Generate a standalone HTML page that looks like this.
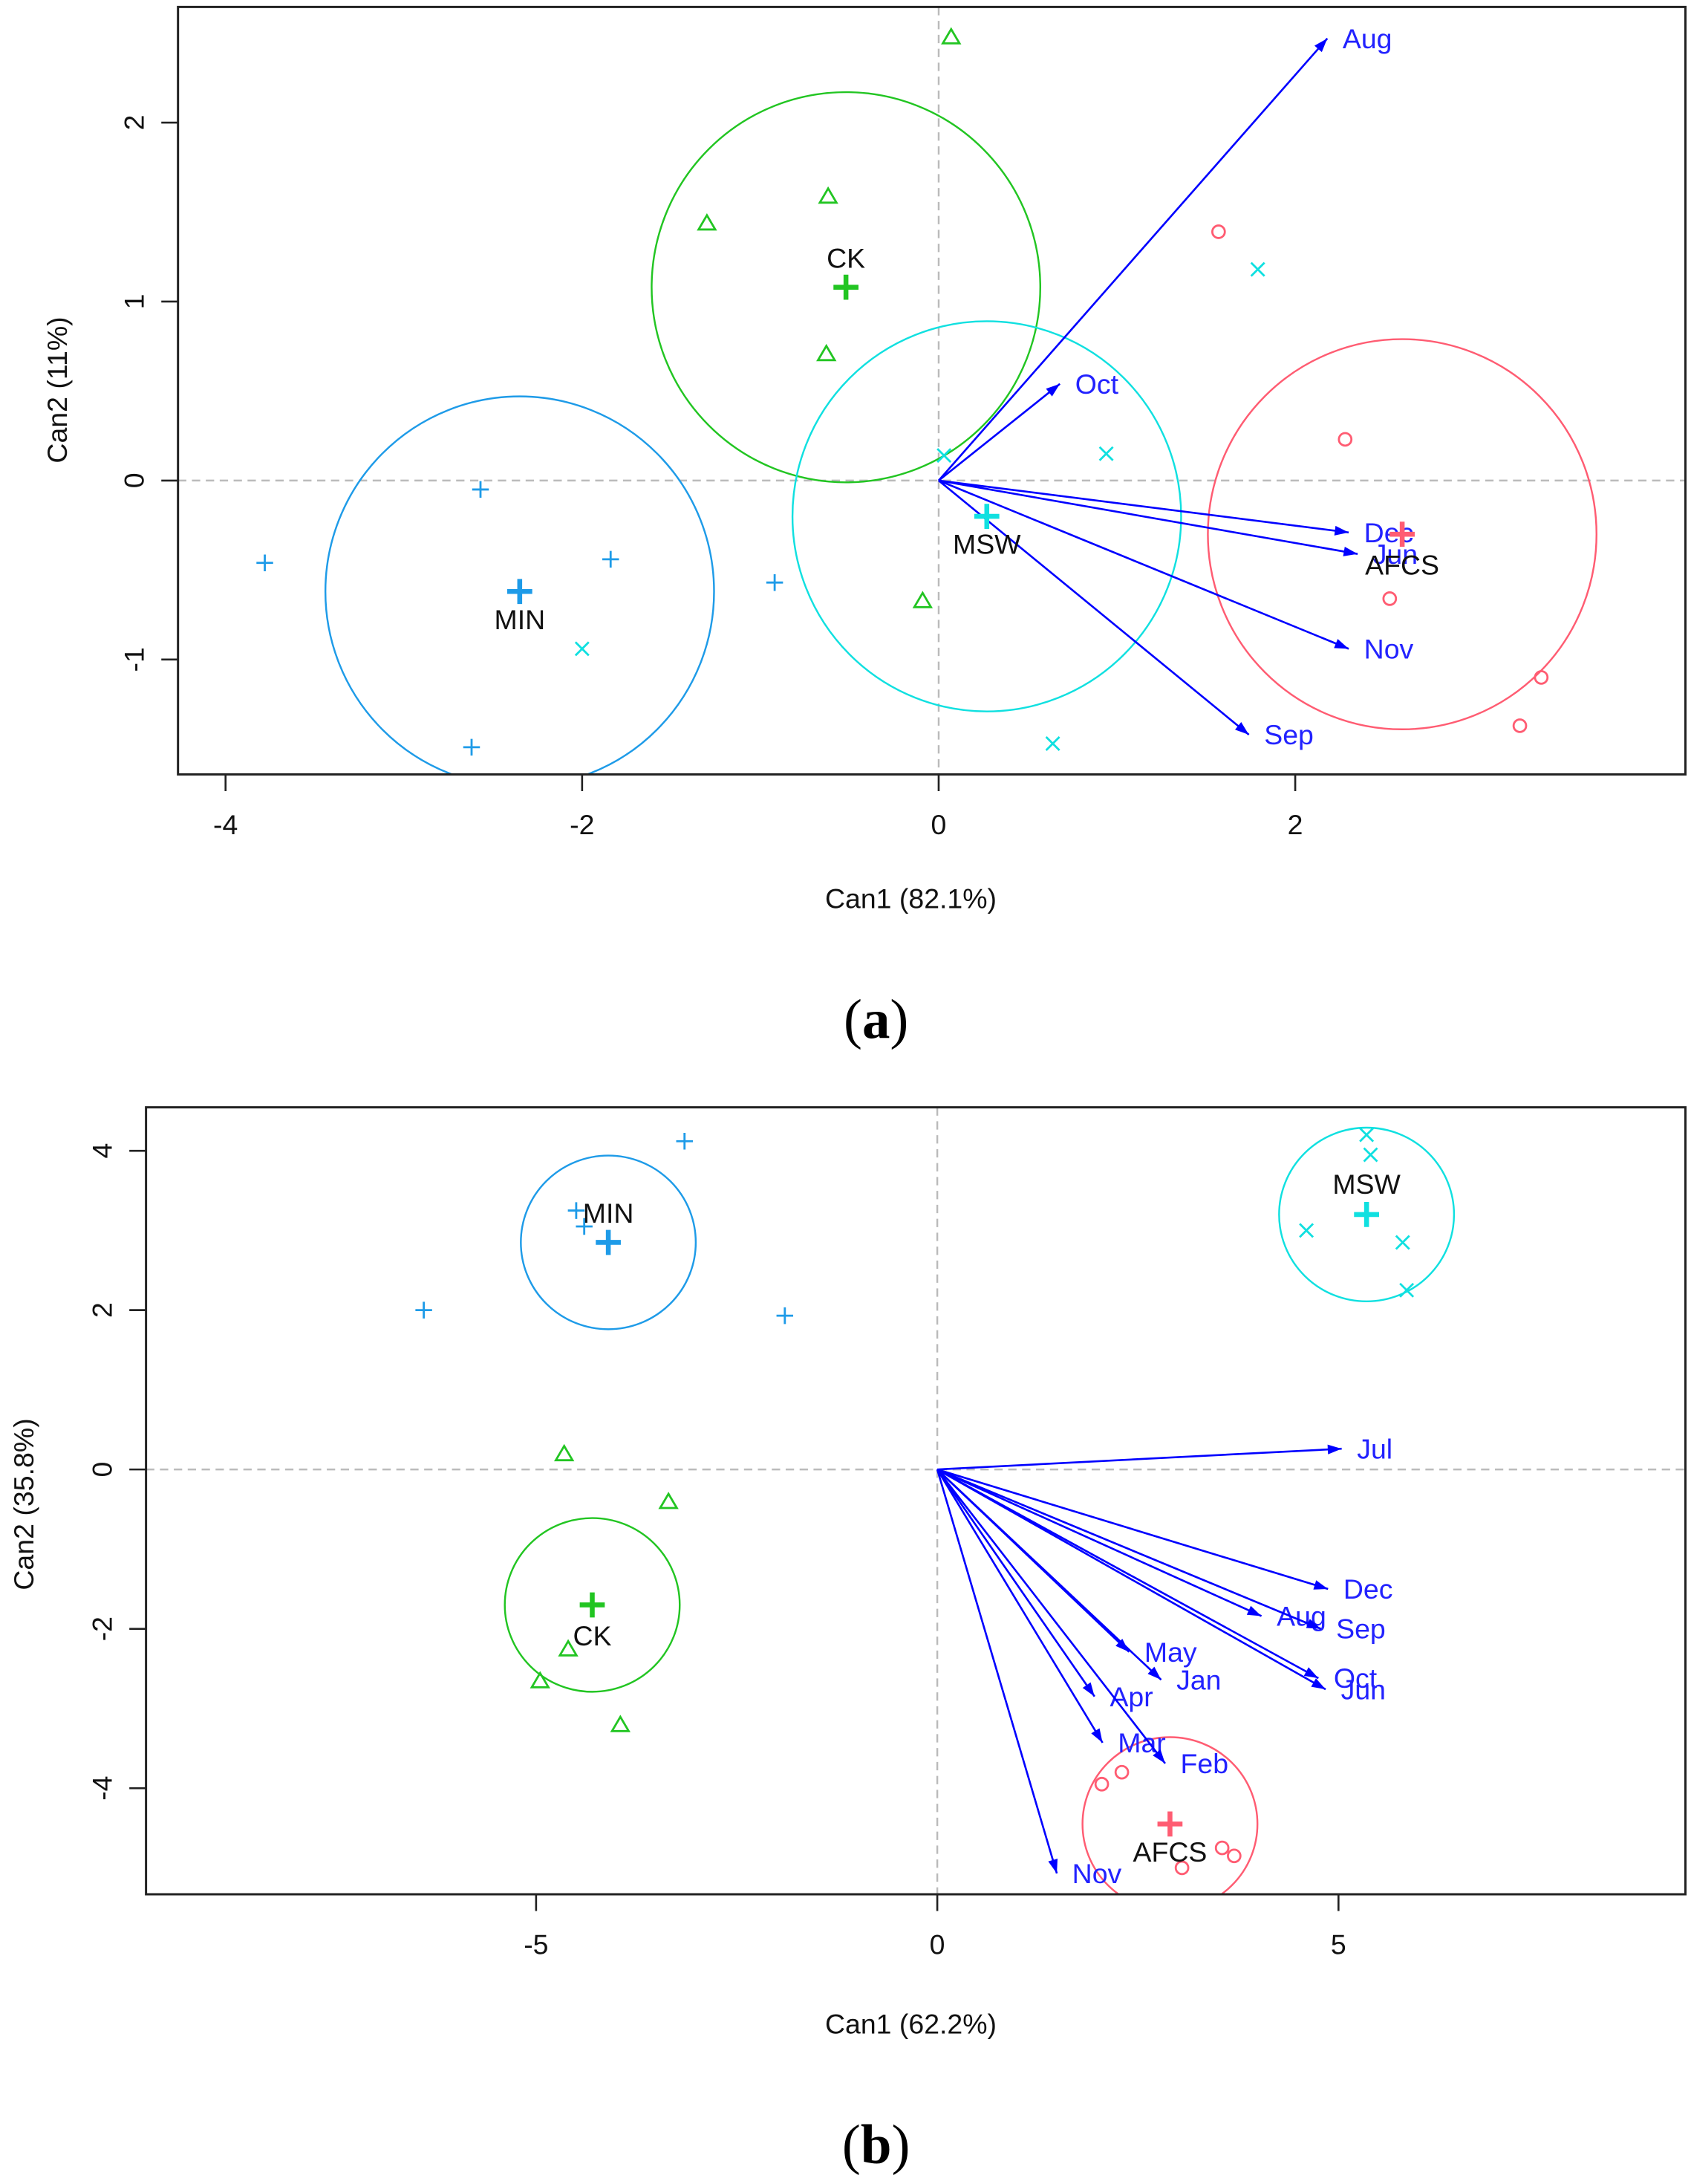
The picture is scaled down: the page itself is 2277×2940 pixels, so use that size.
<!DOCTYPE html>
<html><head><meta charset="utf-8"><style>
html,body{margin:0;padding:0;background:#fff}
svg{display:block}
text{font-family:"Liberation Sans",sans-serif}
</style></head><body>
<svg id="fig" width="2277" height="2940" viewBox="0 0 1216 1568" preserveAspectRatio="none" xmlns="http://www.w3.org/2000/svg">
<defs>
<marker id="ah" viewBox="0 0 10 10" refX="10" refY="5" markerWidth="12" markerHeight="10" markerUnits="userSpaceOnUse" orient="auto"><path d="M0,1.5 L10,5 L0,8.5 z" fill="#0000ff"/></marker>
</defs>
<g id="pa"></g>
<g id="pb"></g>
<text x="630" y="745" font-size="40" text-anchor="middle" style="font-family:'Liberation Serif',serif">(<tspan font-weight="bold">a</tspan>)</text>
<text x="630" y="1553" font-size="40" text-anchor="middle" style="font-family:'Liberation Serif',serif">(<tspan font-weight="bold">b</tspan>)</text>
</svg>
<script>
// ---------- Panel A data ----------
const aGroups = ["CK","MIN","MSW","AFCS"];
const aCentX = [-0.52, -2.35, 0.27, 2.6];
const aCentY = [1.08, -0.62, -0.2, -0.3];
const aRadius = [1.09, 1.09, 1.09, 1.09];
const aPtGroup = [0,0,0,0,0, 1,1,1,1,1, 2,2,2,2,2, 3,3,3,3,3];
const aPtX = [0.07,-0.62,-1.3,-0.63,-0.09, -2.57,-3.78,-1.84,-0.92,-2.62, 1.79,0.03,0.94,-2.0,0.64, 1.57,2.28,2.53,3.38,3.26];
const aPtY = [2.48,1.59,1.44,0.71,-0.67, -0.05,-0.46,-0.44,-0.57,-1.49, 1.18,0.14,0.15,-0.94,-1.47, 1.39,0.23,-0.66,-1.1,-1.37];
const aVarNames = ["Aug","Oct","Dec","Jun","Nov","Sep"];
const aVarX = [2.18, 0.68, 2.3, 2.35, 2.3, 1.74];
const aVarY = [2.47, 0.54, -0.29, -0.41, -0.94, -1.42];
const aXTicks = [-4,-2,0,2];
const aYTicks = [-1,0,1,2];

// ---------- Panel B data ----------
const bGroups = ["CK","MIN","MSW","AFCS"];
const bCentX = [-4.3, -4.1, 5.35, 2.9];
const bCentY = [-1.7, 2.85, 3.2, -4.45];
const bRadius = [1.09, 1.09, 1.09, 1.09];
const bPtGroup = [0,0,0,0,0, 1,1,1,1,1, 2,2,2,2,2, 3,3,3,3,3];
const bPtX = [-4.65,-3.35,-4.6,-4.95,-3.95, -4.5,-4.4,-3.15,-6.4,-1.9, 5.35,5.4,4.6,5.8,5.85, 2.05,2.3,3.55,3.7,3.05];
const bPtY = [0.2,-0.4,-2.25,-2.65,-3.2, 3.25,3.05,4.12,2.0,1.93, 4.2,3.95,3.0,2.85,2.25, -3.95,-3.8,-4.75,-4.85,-5.0];
const bVarNames = ["Jul","Dec","Aug","Sep","Oct","Jun","May","Jan","Apr","Mar","Feb","Nov"];
const bVarX = [5.04, 4.87, 4.04, 4.78, 4.75, 4.84, 2.39, 2.79, 1.96, 2.06, 2.84, 1.49];
const bVarY = [0.26, -1.5, -1.84, -2.0, -2.62, -2.76, -2.29, -2.64, -2.85, -3.43, -3.69, -5.07];
const bXTicks = [-5,0,5];
const bYTicks = [-4,-2,0,2,4];

const colors = {CK:"#22c522", MIN:"#1e9be8", MSW:"#10e0e0", AFCS:"#ff5c72"};
const NS = "http://www.w3.org/2000/svg";
function mk(parent, tag, attrs){const e=document.createElementNS(NS,tag);for(const k in attrs)e.setAttribute(k,attrs[k]);parent.appendChild(e);return e;}

function drawSymbol(g, name, x, y, col, big){
  const s = big?9:6, sw = big?3.5:1.5;
  if(big || name==="MIN"){ mk(g,"path",{d:`M${x-s},${y} H${x+s} M${x},${y-s} V${y+s}`,stroke:col,"stroke-width":sw}); }
  else if(name==="CK"){ mk(g,"path",{d:`M${x-s},${y+s*0.8} L${x},${y-s*0.9} L${x+s},${y+s*0.8} Z`,fill:"none",stroke:col,"stroke-width":sw}); }
  else if(name==="MSW"){ const t=s*0.8; mk(g,"path",{d:`M${x-t},${y-t} L${x+t},${y+t} M${x-t},${y+t} L${x+t},${y-t}`,stroke:col,"stroke-width":sw}); }
  else { mk(g,"circle",{cx:x,cy:y,r:4.5,fill:"none",stroke:col,"stroke-width":sw}); }
}

function panel(cfg){
  const g = document.getElementById(cfg.id);
  const {L,R,T,B,x0,y0,sx,sy} = cfg;
  const X = v => x0 + v*sx, Y = v => y0 - v*sy;
  const clipId = cfg.id+"clip";
  const cp = mk(g,"clipPath",{id:clipId}); mk(cp,"rect",{x:L,y:T,width:R-L,height:B-T});
  const inner = mk(g,"g",{"clip-path":`url(#${clipId})`});
  let e = mk(inner,"line",{x1:L,x2:R,y1:Y(0),y2:Y(0),stroke:"#bbb","stroke-dasharray":"6,4","stroke-width":1.3});
   
  e = mk(inner,"line",{x1:X(0),x2:X(0),y1:T,y2:B,stroke:"#bbb","stroke-dasharray":"6,4","stroke-width":1.3});
   
  cfg.groups.forEach((nm,i)=>{
    const c = mk(inner,"ellipse",{cx:X(cfg.cx[i]),cy:Y(cfg.cy[i]),rx:cfg.r[i]*sx,ry:cfg.r[i]*sy,fill:"none",stroke:colors[nm],"stroke-width":1.3});
    
    
  });
  cfg.px.forEach((v,i)=>{
    const nm = cfg.groups[cfg.pg[i]];
    const pg = mk(inner,"g",{});
    
    
    drawSymbol(pg,nm,X(v),Y(cfg.py[i]),colors[nm],false);
  });
  cfg.vn.forEach((nm,i)=>{
    const a = mk(inner,"line",{x1:X(0),y1:Y(0),x2:X(cfg.vx[i]),y2:Y(cfg.vy[i]),stroke:"#0000ff","stroke-width":1.4,"marker-end":"url(#ah)"});
    
    
    const t = mk(inner,"text",{x:X(cfg.vx[i])+11,y:Y(cfg.vy[i])+7,"font-size":20,fill:"#2222ff"});
    t.textContent = nm;
    
    
  });
  cfg.groups.forEach((nm,i)=>{
    const cg = mk(inner,"g",{});
    
    
    drawSymbol(cg,nm,X(cfg.cx[i]),Y(cfg.cy[i]),colors[nm],true);
    const t = mk(inner,"text",{x:X(cfg.cx[i])+cfg.lx[i],y:Y(cfg.cy[i])+cfg.ly[i],"font-size":20,fill:"#111","text-anchor":"middle"});
    t.textContent = nm;
    
    
  });
  e = mk(g,"rect",{x:L,y:T,width:R-L,height:B-T,fill:"none",stroke:"#222","stroke-width":1.6});
   
  cfg.xt.forEach(v=>{
    const tk = mk(g,"line",{x1:X(v),x2:X(v),y1:B,y2:B+12,stroke:"#222","stroke-width":1.4});
     
    const t = mk(g,"text",{x:X(v),y:B+43,"font-size":20,"text-anchor":"middle",fill:"#111"});
    t.textContent = v;  
  });
  cfg.yt.forEach(v=>{
    const tk = mk(g,"line",{x1:L-12,x2:L,y1:Y(v),y2:Y(v),stroke:"#222","stroke-width":1.4});
     
    const t = mk(g,"text",{x:L-30,y:Y(v),"font-size":20,"text-anchor":"middle",fill:"#111",transform:`rotate(-90 ${L-30} ${Y(v)})`,"dominant-baseline":"middle"});
    t.textContent = v;  
  });
  let t = mk(g,"text",{x:cfg.xtx,y:cfg.xty,"font-size":20,"text-anchor":"middle",fill:"#111"});
  t.textContent = cfg.xtitle;  
  t = mk(g,"text",{x:cfg.ytx,y:cfg.yty,"font-size":20,"text-anchor":"middle",fill:"#111",transform:`rotate(-90 ${cfg.ytx} ${cfg.yty})`});
  t.textContent = cfg.ytitle;  
}

panel({id:"pa",L:128,R:1212,T:5,B:556,x0:675,y0:345,sx:128.2,sy:128.5,
  groups:aGroups,cx:aCentX,cy:aCentY,r:aRadius,pg:aPtGroup,px:aPtX,py:aPtY,
  vn:aVarNames,vx:aVarX,vy:aVarY,xt:aXTicks,yt:aYTicks,
  lx:[0,0,0,0],ly:[-14,27,27,29],
  xtitle:"Can1 (82.1%)",xtx:655,xty:652,ytitle:"Can2 (11%)",ytx:48,yty:280});
panel({id:"pb",L:105,R:1212,T:795,B:1360,x0:674,y0:1055,sx:57.7,sy:57.2,
  groups:bGroups,cx:bCentX,cy:bCentY,r:bRadius,pg:bPtGroup,px:bPtX,py:bPtY,
  vn:bVarNames,vx:bVarX,vy:bVarY,xt:bXTicks,yt:bYTicks,
  lx:[0,0,0,0],ly:[29,-14,-15,27],
  xtitle:"Can1 (62.2%)",xtx:655,xty:1460,ytitle:"Can2 (35.8%)",ytx:24,yty:1080});
</script>
</body></html>
